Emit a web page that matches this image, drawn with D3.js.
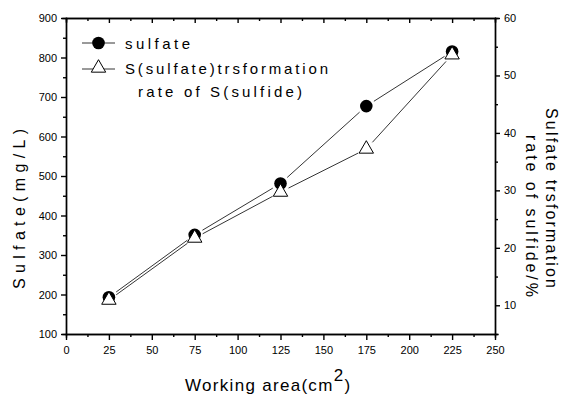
<!DOCTYPE html>
<html>
<head>
<meta charset="utf-8">
<script src="https://cdn.jsdelivr.net/npm/d3@7"></script>
<style>
  body { margin: 0; background: #fff; }
  svg { display: block; font-family: "Liberation Sans", Arial, sans-serif; }
  .axis path, .axis line { stroke: #000; stroke-width: 1.4; }
  .axis text { font-size: 11px; fill: #000; }
</style>
</head>
<body>
<div id="chart"></div>
<script>
// values
const area = [25, 75, 125, 175, 225]
const sulfate = [193, 351, 481, 677, 815]          // mg/L, left axis
const rateS = [10.9, 21.7, 29.7, 37.2, 53.6]       // %, right axis
const xTicks = [0, 25, 50, 75, 100, 125, 150, 175, 200, 225, 250]
const leftTicks = [100, 200, 300, 400, 500, 600, 700, 800, 900]
const rightTicks = [10, 20, 30, 40, 50, 60]

const W = 565, H = 396
const m = { top: 18, right: 70, bottom: 62, left: 66 }

const svg = d3.select("#chart").append("svg")
    .attr("width", W)
    .attr("height", H)

let x = d3.scaleLinear([0, 250], [m.left, W - m.right])
let yL = d3.scaleLinear([100, 900], [H - m.bottom, m.top])
let yR = d3.scaleLinear([5, 60], [H - m.bottom, m.top])

const minor = (ticks) => d3.range(ticks.length - 1).map(i => (ticks[i] + ticks[i + 1]) / 2)

// bottom axis
svg.append("g").attr("class", "axis")
    .attr("transform", `translate(0,${H - m.bottom})`)
    .call(d3.axisBottom(x).tickValues(minor(xTicks)).tickSize(3).tickFormat(""))
svg.append("g").attr("class", "axis")
    .attr("transform", `translate(0,${H - m.bottom})`)
    .call(d3.axisBottom(x).tickValues(xTicks).tickSize(6).tickSizeOuter(0).tickPadding(6))

// top axis, ticks inward
svg.append("g").attr("class", "axis")
    .attr("transform", `translate(0,${m.top})`)
    .call(d3.axisTop(x).tickValues(minor(xTicks)).tickSize(-3).tickFormat(""))
svg.append("g").attr("class", "axis")
    .attr("transform", `translate(0,${m.top})`)
    .call(d3.axisTop(x).tickValues(xTicks).tickSize(-5).tickSizeOuter(0).tickFormat(""))

// left axis
svg.append("g").attr("class", "axis")
    .attr("transform", `translate(${m.left},0)`)
    .call(d3.axisLeft(yL).tickValues(minor(leftTicks)).tickSize(3).tickFormat(""))
svg.append("g").attr("class", "axis")
    .attr("transform", `translate(${m.left},0)`)
    .call(d3.axisLeft(yL).tickValues(leftTicks).tickSize(5).tickSizeOuter(0).tickPadding(4))

// right axis
svg.append("g").attr("class", "axis")
    .attr("transform", `translate(${W - m.right},0)`)
    .call(d3.axisRight(yR).tickValues([5].concat(minor(rightTicks))).tickSize(3).tickFormat(""))
svg.append("g").attr("class", "axis")
    .attr("transform", `translate(${W - m.right},0)`)
    .call(d3.axisRight(yR).tickValues(rightTicks).tickSize(5).tickSizeOuter(0).tickPadding(4))

svg.selectAll(".axis .domain").attr("stroke-linecap", "square")

// lines with small gaps at the markers
function gappedLine(pts, gap) {
    let g = svg.append("g")
    for (let i = 0; i < pts.length - 1; i++) {
        let [x1, y1] = pts[i], [x2, y2] = pts[i + 1]
        let len = Math.hypot(x2 - x1, y2 - y1)
        let ux = (x2 - x1) / len, uy = (y2 - y1) / len
        g.append("line")
            .attr("x1", x1 + ux * gap).attr("y1", y1 + uy * gap)
            .attr("x2", x2 - ux * gap).attr("y2", y2 - uy * gap)
            .attr("stroke", "#000").attr("stroke-width", 0.8)
    }
}

const sPts = area.map((a, i) => [x(a), yL(sulfate[i])])
const rPts = area.map((a, i) => [x(a), yR(rateS[i])])
gappedLine(sPts, 9)
gappedLine(rPts, 9)

const tri = d3.symbol().type(d3.symbolTriangle).size(90)

svg.append("g").selectAll("circle").data(sPts).join("circle")
    .attr("cx", d => d[0]).attr("cy", d => d[1]).attr("r", 6.3)
    .attr("fill", "#000")

svg.append("g").selectAll("path").data(rPts).join("path")
    .attr("d", tri)
    .attr("transform", d => `translate(${d[0]},${d[1]})`)
    .attr("fill", "#fff").attr("stroke", "#000").attr("stroke-width", 1)

// legend
const lg = svg.append("g").attr("font-size", 15)
lg.append("line").attr("x1", 82).attr("x2", 115).attr("y1", 43).attr("y2", 43)
    .attr("stroke", "#000").attr("stroke-width", 0.8)
lg.append("circle").attr("cx", 98.5).attr("cy", 43).attr("r", 6.3).attr("fill", "#000")
lg.append("text").attr("x", 125).attr("y", 48.5)
    .attr("textLength", 65).attr("lengthAdjust", "spacing").text("sulfate")

lg.append("line").attr("x1", 82).attr("x2", 115).attr("y1", 69).attr("y2", 69)
    .attr("stroke", "#000").attr("stroke-width", 0.8)
lg.append("path").attr("d", tri).attr("transform", "translate(98.5,68)")
    .attr("fill", "#fff").attr("stroke", "#000").attr("stroke-width", 1)
lg.append("text").attr("x", 125).attr("y", 74)
    .attr("textLength", 203).attr("lengthAdjust", "spacing").text("S(sulfate)trsformation")
lg.append("text").attr("x", 138).attr("y", 97)
    .attr("textLength", 164).attr("lengthAdjust", "spacing").text("rate of S(sulfide)")

// axis titles
const xt = svg.append("text").attr("x", 185).attr("y", 391).attr("font-size", 17)
    .attr("letter-spacing", 1.3)
xt.append("tspan").text("Working area(cm")
xt.append("tspan").attr("dy", -10).text("2")
xt.append("tspan").attr("dy", 10).text(")")

svg.append("text")
    .attr("transform", "translate(25,209) rotate(-90)")
    .attr("text-anchor", "middle").attr("font-size", 16)
    .attr("textLength", 160).attr("lengthAdjust", "spacing")
    .text("Sulfate(mg/L)")

svg.append("text")
    .attr("transform", "translate(546,108) rotate(90)")
    .attr("font-size", 16)
    .attr("textLength", 180).attr("lengthAdjust", "spacing")
    .text("Sulfate trsformation")
svg.append("text")
    .attr("transform", "translate(526,135) rotate(90)")
    .attr("font-size", 16)
    .attr("textLength", 162).attr("lengthAdjust", "spacing")
    .text("rate of sulfide/%")
</script>
</body>
</html>
